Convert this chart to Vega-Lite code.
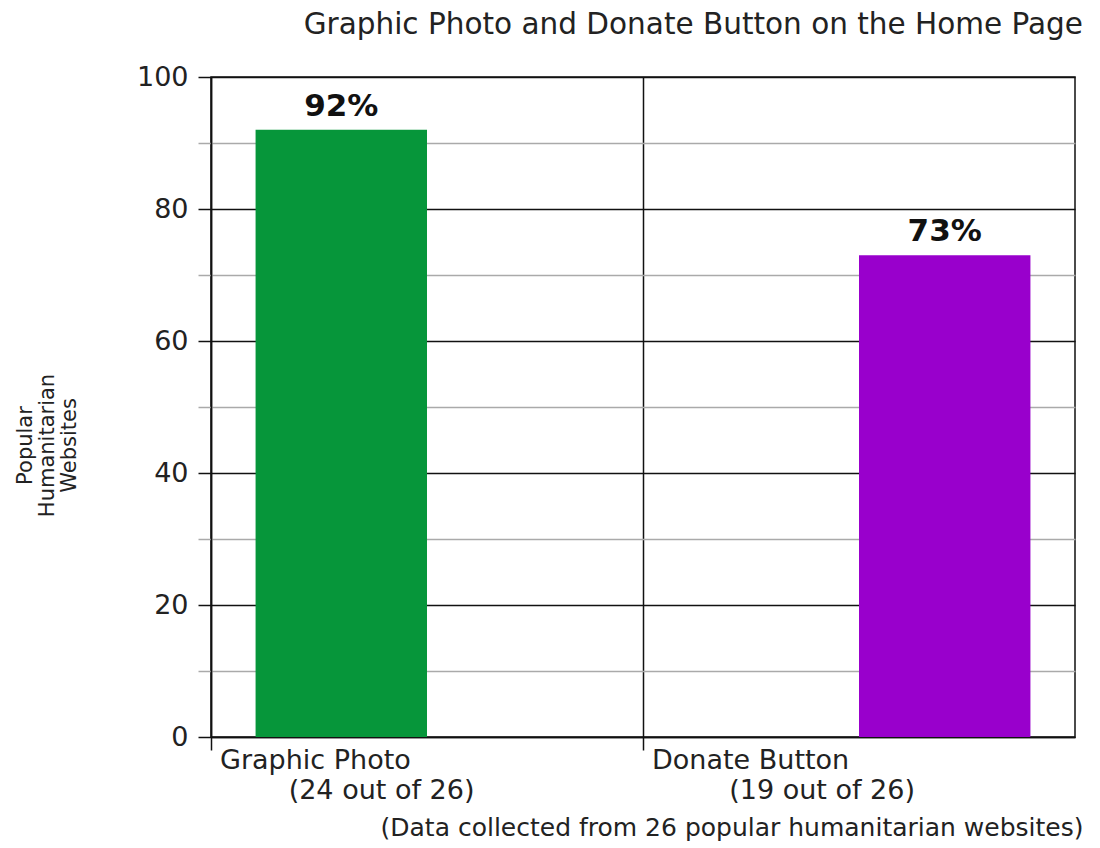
{
  "$schema": "https://vega.github.io/schema/vega-lite/v6.json",
  "width": 864,
  "height": 660,
  "autosize": {"type": "none"},
  "padding": {"left": 211, "top": 77, "right": 25, "bottom": 111},
  "background": "white",
  "config": {"view": {"stroke": "#111", "strokeWidth": 1.5}},
  "title": {
    "text": "Graphic Photo and Donate Button on the Home Page",
    "anchor": "end", "frame": "group", "dx": 8, "offset": 0,
    "fontSize": 29.5, "font": "DejaVu Sans", "fontWeight": "normal", "color": "#222",
    "baseline": "alphabetic"
  },
  "data": {"values": [
    {"item": "Graphic Photo", "pct": 92, "count": 24, "total": 26},
    {"item": "Donate Button", "pct": 73, "count": 19, "total": 26}
  ]},
  "transform": [{"calculate": "datum.pct + '%'", "as": "pct_label"}],
  "encoding": {
    "x": {
      "field": "item", "type": "nominal", "sort": null,
      "scale": {"domain": ["Graphic Photo", "Donate Button"], "paddingInner": 0, "paddingOuter": 0},
      "axis": {
        "title": "(Data collected from 26 popular humanitarian websites)",
        "titleAnchor": "end", "titleAlign": "right", "titleX": 872, "titleY": 98,
        "titleBaseline": "alphabetic", "titleFont": "DejaVu Sans", "titleFontSize": 25,
        "titleFontWeight": "normal", "titleColor": "#222",
        "bandPosition": 0, "grid": true, "gridColor": "#111", "gridWidth": 1.5,
        "domainColor": "#111", "domainWidth": 1.5, "tickColor": "#111", "tickWidth": 1.5, "tickSize": 13,
        "labelAngle": 0, "labelAlign": "left", "labelBaseline": "top", "labelOffset": -207, "labelPadding": -3,
        "labelFont": "DejaVu Sans", "labelFontSize": 27, "labelLineHeight": 30, "labelColor": "#222",
        "labelBound": false, "labelOverlap": false, "labelFlush": false, "labelLimit": 0,
        "labelExpr": "datum.value === 'Graphic Photo' ? ['Graphic Photo', '\u200b\u00a0\u00a0\u00a0\u00a0\u00a0\u00a0\u00a0\u00a0(24 out of 26)'] : ['Donate Button', '\u200b\u00a0\u00a0\u00a0\u00a0\u00a0\u00a0\u00a0\u00a0\u00a0(19 out of 26)']"
      }
    },
    "xOffset": {
      "field": "item", "type": "nominal", "sort": null,
      "scale": {"domain": ["Graphic Photo", "Donate Button"], "paddingInner": 0, "paddingOuter": 0.26}
    },
    "y": {
      "field": "pct", "type": "quantitative",
      "scale": {"domain": [0, 100], "nice": false},
      "axis": {
        "title": ["Popular", "Humanitarian", "Websites"],
        "titleAngle": -90, "titleX": -186, "titleY": 368, "titleAlign": "center", "titleBaseline": "middle",
        "titleFont": "DejaVu Sans", "titleFontSize": 21, "titleFontWeight": "normal", "titleLineHeight": 22, "titleColor": "#222",
        "values": [0, 10, 20, 30, 40, 50, 60, 70, 80, 90, 100],
        "grid": true,
        "gridColor": {"condition": {"test": "datum.value % 20 === 0", "value": "#111"}, "value": "#aaa"},
        "gridWidth": 1.5,
        "tickColor": {"condition": {"test": "datum.value % 20 === 0", "value": "#111"}, "value": "#aaa"},
        "tickWidth": 1.5, "tickSize": 13,
        "domainColor": "#111", "domainWidth": 1.5,
        "labelExpr": "datum.value % 20 === 0 ? datum.label : ''",
        "labelFont": "DejaVu Sans", "labelFontSize": 27, "labelPadding": 10, "labelColor": "#222"
      }
    }
  },
  "layer": [
    {
      "mark": {"type": "bar"},
      "encoding": {
        "color": {
          "field": "item", "type": "nominal",
          "scale": {"domain": ["Graphic Photo", "Donate Button"], "range": ["#06963a", "#9900cc"]},
          "legend": null
        }
      }
    },
    {
      "mark": {"type": "text", "dy": -14, "baseline": "alphabetic", "fontSize": 31, "fontWeight": "bold", "font": "DejaVu Sans", "color": "#111"},
      "encoding": {"text": {"field": "pct_label"}}
    }
  ]
}
